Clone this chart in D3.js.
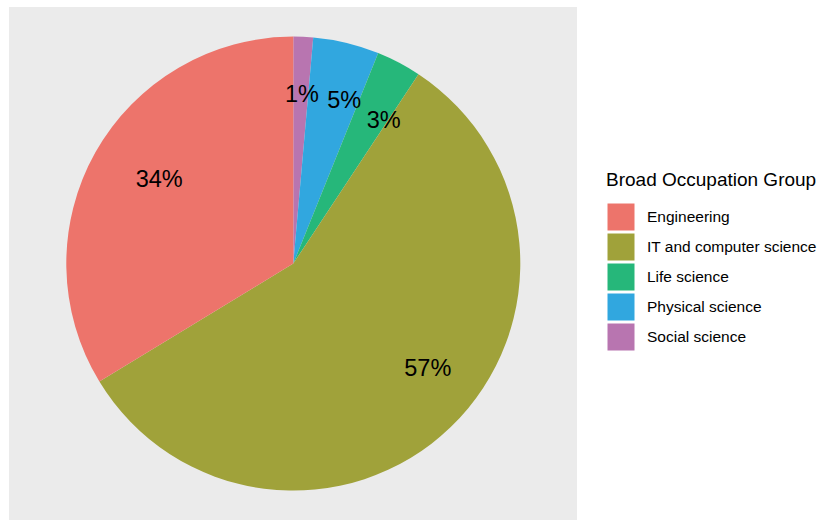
<!DOCTYPE html>
<html>
<head>
<meta charset="utf-8">
<script src="https://cdn.jsdelivr.net/npm/d3@7"></script>
<style>
  html, body { margin: 0; padding: 0; background: #ffffff; }
  svg { display: block; font-family: "Liberation Sans", Arial, sans-serif; }
</style>
</head>
<body>
<svg id="chart" width="818" height="520"></svg>
<script>
// Share of workers by broad occupation group (percent)
const categories = ["Engineering", "IT and computer science", "Life science", "Physical science", "Social science"];
const shares = [33.7, 57.0, 3.2, 4.7, 1.4];
const colors = ["#ED746B", "#A0A23A", "#26B77A", "#31A7DF", "#B875B0"];
// Where each percentage label sits: position along the stack (percent) and radius (fraction of pie radius)
const labelPos = [84.0, 35.5, 8.9, 4.8, 0.8];
const labelRadius = [0.70, 0.75, 0.75, 0.755, 0.75];
const legendTitle = "Broad Occupation Group";

const svg = d3.select("#chart");

// Panel
const panel = { x0: 9, x1: 577, y0: 7, y1: 521 };
svg.append("rect")
  .attr("x", panel.x0).attr("y", panel.y0)
  .attr("width", panel.x1 - panel.x0).attr("height", panel.y1 - panel.y0)
  .attr("fill", "#EBEBEB");

const cx = (panel.x0 + panel.x1) / 2 + 0.3;
const cy = 263.6;
const R = 227;

const rows = categories.map((c, i) => ({ cat: c, share: shares[i], color: colors[i], pos: labelPos[i], rf: labelRadius[i] }));

// Stack runs clockwise from 12 o'clock in reverse legend order
const pie = d3.pie().sort(null).value(d => d.share).startAngle(0).endAngle(2 * Math.PI);
const arcs = pie(rows.slice().reverse());
const arc = d3.arc().innerRadius(0).outerRadius(R);

const g = svg.append("g").attr("transform", `translate(${cx},${cy})`);
g.selectAll("path.slice").data(arcs).join("path")
  .attr("class", "slice")
  .attr("d", arc)
  .attr("fill", d => d.data.color);

// Percentage labels
const total = d3.sum(shares);
const theta = d3.scaleLinear().domain([0, total]).range([0, 2 * Math.PI]);
g.selectAll("text.pct").data(rows).join("text")
  .attr("class", "pct")
  .attr("x", d => Math.sin(theta(d.pos)) * R * d.rf)
  .attr("y", d => -Math.cos(theta(d.pos)) * R * d.rf)
  .attr("text-anchor", "middle")
  .attr("dy", "0.36em")
  .attr("font-size", 23.5)
  .attr("fill", "#000")
  .text(d => Math.round(d.share) + "%");

// Legend
const lg = svg.append("g").attr("transform", "translate(606,0)");
lg.append("text")
  .attr("x", 0).attr("y", 186)
  .attr("font-size", 19)
  .attr("fill", "#000")
  .text(legendTitle);

const keySize = 28, keyStep = 30, keyTop = 203;
const items = lg.selectAll("g.item").data(rows).join("g")
  .attr("class", "item")
  .attr("transform", (d, i) => `translate(0,${keyTop + i * keyStep})`);
items.append("rect")
  .attr("x", 1).attr("y", 0)
  .attr("width", keySize).attr("height", keySize)
  .attr("fill", d => d.color)
  .attr("stroke", "#ffffff").attr("stroke-width", 1);
items.append("text")
  .attr("x", 41).attr("y", keySize / 2)
  .attr("dy", "0.34em")
  .attr("font-size", 15.5)
  .attr("fill", "#000")
  .text(d => d.cat);
</script>
</body>
</html>
